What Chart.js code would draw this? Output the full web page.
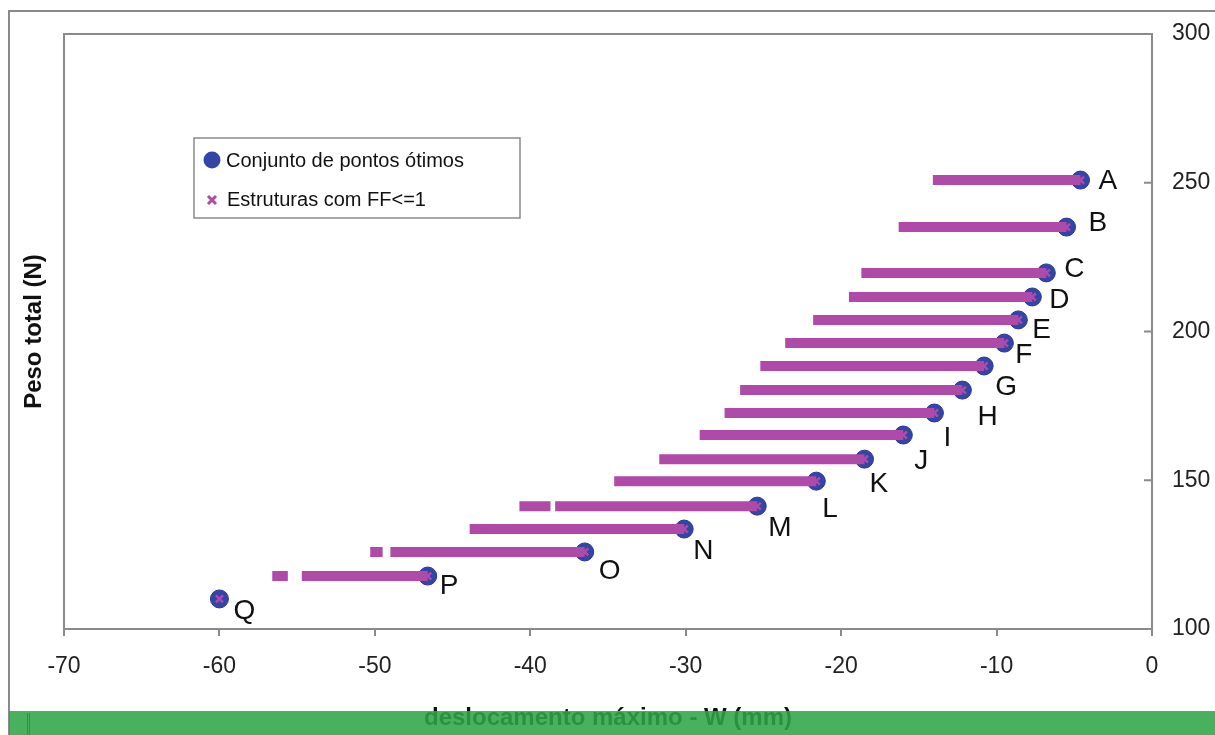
<!DOCTYPE html>
<html>
<head>
<meta charset="utf-8">
<script src="https://cdn.jsdelivr.net/npm/chart.js@4.4.1/dist/chart.umd.min.js"></script>
<style>
  html, body { margin: 0; padding: 0; background: #ffffff; }
  #wrap { width: 1215px; height: 735px; }
</style>
</head>
<body>
<div id="wrap"><canvas id="c" width="1215" height="735"></canvas></div>
<script>
// ---- data ----
const optimalLabels = ['A','B','C','D','E','F','G','H','I','J','K','L','M','N','O','P','Q'];
const optimalX = [-4.6, -5.5, -6.8, -7.7, -8.6, -9.5, -10.8, -12.2, -14.0, -16.0, -18.5, -21.6, -25.4, -30.1, -36.5, -46.6, -60.0];
const optimalY = [250.9, 235.1, 219.7, 211.6, 203.9, 196.1, 188.4, 180.3, 172.6, 165.2, 157.1, 149.7, 141.3, 133.6, 125.9, 117.8, 110.1];

// horizontal runs of structures with FF<=1 (start, end, weight)
const ffStartX = [-14.1, -16.3, -18.7, -19.5, -21.8, -23.6, -25.2, -26.5, -27.5, -29.1, -31.7, -34.6, -40.7, -38.4, -43.9, -50.3, -49.0, -56.6, -54.7];
const ffEndX   = [-4.6,  -5.5,  -6.8,  -7.7,  -8.6,  -9.5,  -10.8, -12.2, -14.0, -16.0, -18.5, -21.6, -38.7, -25.4, -30.1, -49.5, -36.5, -55.6, -46.6];
const ffY      = [250.9, 235.1, 219.7, 211.6, 203.9, 196.1, 188.4, 180.3, 172.6, 165.2, 157.1, 149.7, 141.3, 141.3, 133.6, 125.9, 125.9, 117.8, 117.8];

const xTicks = [-70, -60, -50, -40, -30, -20, -10, 0];
const yTicks = [100, 150, 200, 250, 300];

const seriesNames = ['Conjunto de pontos ótimos', 'Estruturas com FF<=1'];
const xTitle = 'deslocamento máximo - W (mm)';
const yTitle = 'Peso total (N)';

// ---- styling ----
const MAGENTA = '#b04aa8';
const BLUE = '#3346a8';
const GRAY = '#8a8a8a';
const FONT = '"Liberation Sans", Arial, sans-serif';
Chart.defaults.font.family = FONT;

const labelOffsets = [[18,0],[22,-5],[18,-5],[17,2],[14,9],[11,11],[11,20],[15,26],[9,24],[11,25],[5,24],[6,27],[11,21],[9,21],[14,18],[12,9],[14,11]];

// build the segment line data
const ffLine = [];
ffStartX.forEach((s, i) => {
  ffLine.push({x: s, y: ffY[i]});
  ffLine.push({x: ffEndX[i], y: ffY[i]});
  ffLine.push({x: null, y: null});
});
const optPts = optimalX.map((x, i) => ({x: x, y: optimalY[i]}));

const framePlugin = {
  id: 'frame',
  beforeDraw(chart) {
    const ctx = chart.ctx;
    ctx.save();
    ctx.fillStyle = '#ffffff';
    ctx.fillRect(0, 0, chart.width, chart.height);
    ctx.strokeStyle = GRAY;
    ctx.lineWidth = 2;
    ctx.beginPath();
    ctx.moveTo(9, 740);
    ctx.lineTo(9, 11);
    ctx.lineTo(1220, 11);
    ctx.stroke();
    ctx.restore();
  },
  afterDraw(chart) {
    const ctx = chart.ctx;
    const a = chart.chartArea;
    ctx.save();
    ctx.strokeStyle = GRAY;
    ctx.lineWidth = 2;
    ctx.beginPath();
    ctx.moveTo(a.left, a.top);
    ctx.lineTo(a.right, a.top);
    ctx.stroke();
    // inward ticks on the right axis
    const y2 = chart.scales.y2;
    ctx.beginPath();
    y2.ticks.forEach(t => {
      const py = y2.getPixelForValue(t.value);
      ctx.moveTo(a.right - 8, py);
      ctx.lineTo(a.right, py);
    });
    ctx.stroke();
    // green strip over the bottom
    ctx.fillStyle = 'rgba(46,165,70,0.87)';
    ctx.fillRect(9, 711, 1215, 30);
    ctx.strokeStyle = 'rgba(30,120,50,0.6)';
    ctx.lineWidth = 1;
    ctx.beginPath();
    ctx.moveTo(27.5, 713); ctx.lineTo(27.5, 735);
    ctx.moveTo(29.5, 713); ctx.lineTo(29.5, 735);
    ctx.stroke();
    ctx.restore();
  }
};

const pointLabelsPlugin = {
  id: 'pointLetters',
  afterDatasetsDraw(chart) {
    const ctx = chart.ctx;
    const meta = chart.getDatasetMeta(2);
    ctx.save();
    ctx.font = '28px ' + FONT;
    ctx.fillStyle = '#111111';
    ctx.textAlign = 'left';
    ctx.textBaseline = 'middle';
    meta.data.forEach((el, i) => {
      const off = labelOffsets[i];
      ctx.fillText(optimalLabels[i], el.x + off[0], el.y + off[1] + 1);
    });
    ctx.restore();
  }
};

const legendPlugin = {
  id: 'boxLegend',
  afterDatasetsDraw(chart) {
    const ctx = chart.ctx;
    ctx.save();
    ctx.fillStyle = '#ffffff';
    ctx.fillRect(194, 138, 326, 80);
    ctx.strokeStyle = GRAY;
    ctx.lineWidth = 1.5;
    ctx.strokeRect(194, 138, 326, 80);
    // blue circle
    ctx.beginPath();
    ctx.arc(212, 160, 8.5, 0, Math.PI * 2);
    ctx.fillStyle = BLUE;
    ctx.fill();
    // magenta cross
    ctx.strokeStyle = MAGENTA;
    ctx.lineWidth = 3;
    ctx.beginPath();
    ctx.moveTo(208, 196); ctx.lineTo(216, 204);
    ctx.moveTo(216, 196); ctx.lineTo(208, 204);
    ctx.stroke();
    ctx.font = '20px ' + FONT;
    ctx.fillStyle = '#111111';
    ctx.textBaseline = 'middle';
    ctx.textAlign = 'left';
    ctx.fillText(chart.data.datasets[2].label, 226, 161);
    ctx.fillText(chart.data.datasets[0].label, 227, 200);
    ctx.restore();
  }
};

new Chart(document.getElementById('c'), {
  type: 'scatter',
  data: {
    datasets: [
      {
        label: seriesNames[1],
        data: optPts,
        pointStyle: 'crossRot',
        pointRadius: 5,
        pointBorderWidth: 2.5,
        borderColor: MAGENTA,
        backgroundColor: MAGENTA,
        showLine: false
      },
      {
        label: seriesNames[1] + ' ',
        data: ffLine,
        showLine: true,
        spanGaps: false,
        borderColor: MAGENTA,
        borderWidth: 10,
        borderCapStyle: 'butt',
        pointRadius: 0,
        pointHoverRadius: 0
      },
      {
        label: seriesNames[0],
        data: optPts,
        pointStyle: 'circle',
        pointRadius: 9,
        pointBorderWidth: 1,
        borderColor: '#28398f',
        backgroundColor: BLUE,
        showLine: false
      }
    ]
  },
  options: {
    responsive: false,
    animation: false,
    events: [],
    layout: { padding: { top: 34, left: 0, right: 0, bottom: 0 } },
    plugins: { legend: { display: false }, tooltip: { enabled: false } },
    scales: {
      x: {
        type: 'linear',
        position: 'bottom',
        min: xTicks[0],
        max: xTicks[xTicks.length - 1],
        afterBuildTicks: s => { s.ticks = xTicks.map(v => ({value: v})); },
        afterFit: s => { s.height = 106; },
        ticks: { font: { size: 23 }, color: '#222', padding: 17 },
        grid: { drawOnChartArea: false, drawTicks: true, tickLength: 7, color: GRAY, lineWidth: 2 },
        border: { display: true, color: GRAY, width: 2 },
        title: { display: true, text: xTitle, font: { size: 24, weight: 'bold' }, color: '#111', padding: { top: 0, bottom: 2 } }
      },
      y: {
        type: 'linear',
        position: 'left',
        min: yTicks[0],
        max: yTicks[yTicks.length - 1],
        afterFit: s => { s.width = 64; },
        ticks: { display: false },
        grid: { display: false, drawTicks: false },
        border: { display: true, color: GRAY, width: 2 },
        title: { display: true, text: yTitle, font: { size: 24, weight: 'bold' }, color: '#111', padding: { top: 20, bottom: 0 } }
      },
      y2: {
        type: 'linear',
        position: 'right',
        min: yTicks[0],
        max: yTicks[yTicks.length - 1],
        afterBuildTicks: s => { s.ticks = yTicks.map(v => ({value: v})); },
        afterFit: s => { s.width = 63; },
        ticks: { font: { size: 23 }, color: '#222', padding: 20 },
        grid: { display: false, drawTicks: false },
        border: { display: true, color: GRAY, width: 2 }
      }
    }
  },
  plugins: [framePlugin, pointLabelsPlugin, legendPlugin]
});
</script>
</body>
</html>
